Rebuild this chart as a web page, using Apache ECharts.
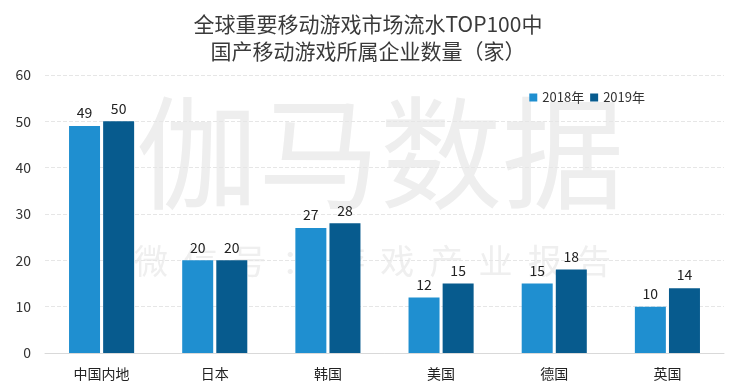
<!DOCTYPE html>
<html><head><meta charset="utf-8">
<script src="https://cdn.jsdelivr.net/npm/echarts@6/dist/echarts.min.js"></script>
<style>html,body{margin:0;padding:0;background:#fff}#c{width:736px;height:391px}</style>
</head><body><div id="c"></div>
<script>
const categories = ['中国内地','日本','韩国','美国','德国','英国'];
const values2018 = [49,20,27,12,15,10];
const values2019 = [50,20,28,15,18,14];
const seriesNames = ['2018年','2019年'];
const yTicks = {min:0,max:60,interval:10};

const chart = echarts.init(document.getElementById('c'));
const font = '"Microsoft YaHei","Noto Sans CJK SC",sans-serif';
chart.setOption({
  backgroundColor:'#fff',
  textStyle:{fontFamily:font},
  title:{
    text:'全球重要移动游戏市场流水TOP100中\n国产移动游戏所属企业数量（家）',
    left:'center', top:6,
    textStyle:{fontSize:21,fontWeight:'normal',color:'#3a3a3a',lineHeight:27,fontFamily:font}
  },
  graphic:[
    {type:'text',left:136,top:92,z:-1,style:{text:'伽马数据',font:'122px '+font,fill:'#eeeeee'}},
    {type:'text',left:134,top:244,z:-1,style:{text:'微  信  号  ：  游  戏  产  业  报  告',font:'34px '+font,fill:'#efefef'}}
  ],
  legend:{
    data:seriesNames, right:86, top:86, itemWidth:8, itemHeight:8, itemGap:6,
    icon:'rect',
    textStyle:{fontSize:13,color:'#333'}
  },
  grid:{left:45,right:12,top:75,bottom:38,containLabel:false},
  xAxis:{
    type:'category', data:categories,
    axisLine:{lineStyle:{color:'#d9d9d9'}},
    axisTick:{show:false},
    axisLabel:{fontSize:14,color:'#222',margin:14}
  },
  yAxis:{
    type:'value', min:yTicks.min, max:yTicks.max, interval:yTicks.interval,
    axisLine:{show:false}, axisTick:{show:false},
    axisLabel:{fontSize:14,color:'#333',margin:14},
    splitLine:{lineStyle:{color:'#e6e6e6',type:'dashed'}}
  },
  series:[
    {name:seriesNames[0],type:'bar',data:values2018,barWidth:31,barGap:'10%',
     itemStyle:{color:'#1f8fd0'},
     label:{show:true,position:'top',fontSize:14,color:'#222',distance:6}},
    {name:seriesNames[1],type:'bar',data:values2019,barWidth:31,
     itemStyle:{color:'#075b8e'},
     label:{show:true,position:'top',fontSize:14,color:'#222',distance:6}}
  ]
});
</script></body></html>
